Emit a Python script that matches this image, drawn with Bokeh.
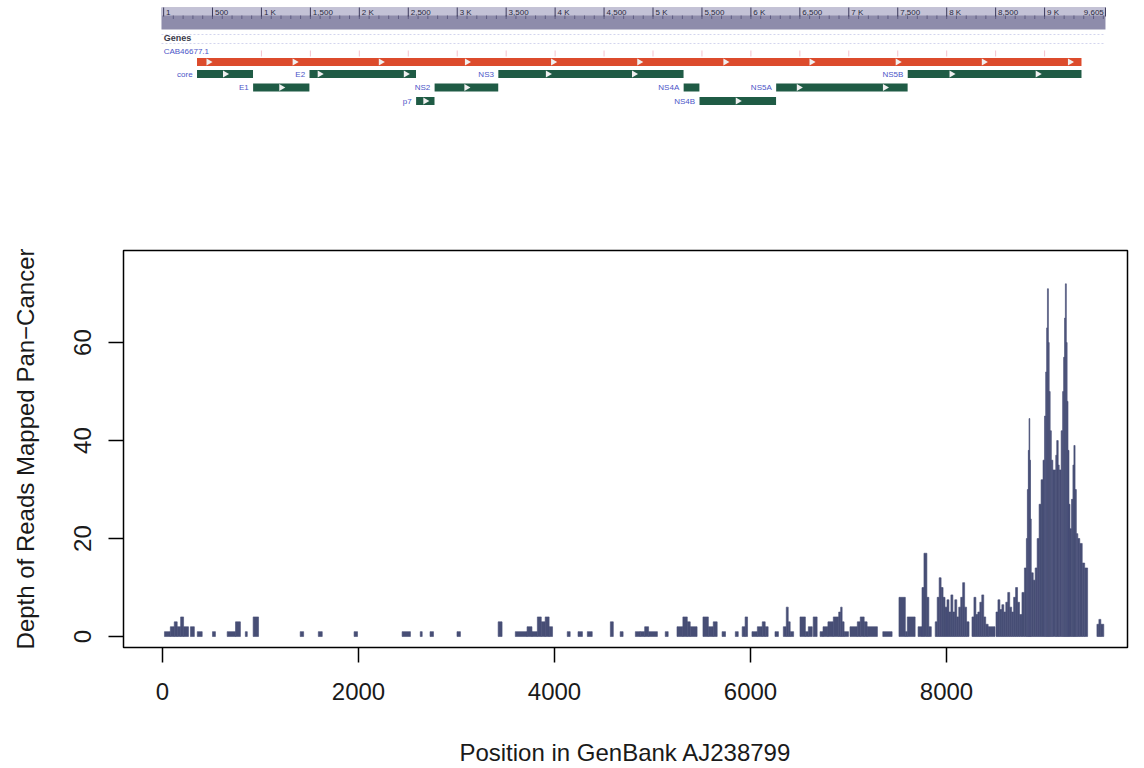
import math
from bokeh.plotting import figure
from bokeh.layouts import column
from bokeh.models import Range1d, FixedTicker
from bokeh.core.properties import value
from bokeh.embed import file_html
from bokeh.resources import INLINE

# ---------------- data ----------------
genome_length = 9605
ruler_ticks = [1, 500, 1000, 1500, 2000, 2500, 3000, 3500, 4000, 4500,
               5000, 5500, 6000, 6500, 7000, 7500, 8000, 8500, 9000]
ruler_labels = ["1", "500", "1 K", "1,500", "2 K", "2,500", "3 K", "3,500", "4 K", "4,500",
                "5 K", "5,500", "6 K", "6,500", "7 K", "7,500", "8 K", "8,500", "9 K"]
end_label = "9,605"

polyprotein_name = "CAB46677.1"
polyprotein_start = 342
polyprotein_end = 9377

gene_names = ["core", "E1", "E2", "p7", "NS2", "NS3", "NS4A", "NS4B", "NS5A", "NS5B"]
gene_start = [342, 915, 1491, 2580, 2769, 3420, 5313, 5475, 6258, 7602]
gene_end = [914, 1490, 2579, 2768, 3419, 5312, 5474, 6257, 7601, 9377]
gene_row = [1, 2, 1, 3, 2, 1, 2, 3, 2, 1]

depth_start = [20, 80, 120, 150, 185, 215, 285, 355, 510, 660, 745, 845, 925,
               1405, 1590, 1955, 2445, 2630, 2730, 3005, 3425,
               3600, 3720, 3770, 3825, 3865, 3905, 3945,
               4130, 4240, 4335, 4570, 4670, 4825, 4875, 4920, 4960, 5130,
               5250, 5310, 5355, 5385, 5515, 5570, 5620, 5710, 5845, 5915, 5945,
               6015, 6070, 6120, 6150, 6250, 6335, 6365, 6385, 6405,
               6505, 6560, 6590, 6640, 6710, 6740, 6790, 6845, 6900, 6920, 6935, 6955,
               7015, 7090, 7120, 7160, 7190, 7350, 7515, 7580, 7600,
               7710, 7750, 7770, 7800, 7820,
               7885, 7905, 7925, 7945, 7965, 7985, 8005, 8025, 8045, 8065, 8085, 8105,
               8125, 8145, 8165, 8185, 8205,
               8260, 8280, 8300, 8320, 8340, 8360, 8380, 8400, 8425,
               8505, 8525, 8545, 8565, 8585, 8605, 8625, 8645, 8665, 8685, 8705, 8725, 8745,
               8770, 8795, 8815, 8825, 8835, 8842, 8850, 8857, 8865,
               8885, 8905, 8925, 8945, 8965, 8985, 9000, 9012, 9022, 9030, 9040, 9048, 9058,
               9070, 9085, 9115, 9125, 9140, 9150, 9170, 9185, 9195, 9205, 9213, 9223, 9231, 9240,
               9250, 9260, 9275, 9290, 9300, 9312, 9325, 9340, 9360, 9385, 9410,
               9535, 9555, 9575]
depth_end = [80, 120, 150, 185, 215, 265, 325, 405, 540, 745, 795, 865, 980,
             1440, 1630, 1990, 2530, 2650, 2765, 3040, 3465,
             3720, 3770, 3825, 3865, 3905, 3945, 3980,
             4160, 4285, 4385, 4600, 4700, 4875, 4920, 4960, 5050, 5160,
             5310, 5355, 5385, 5455, 5570, 5620, 5660, 5745, 5875, 5945, 5970,
             6070, 6120, 6150, 6180, 6285, 6365, 6385, 6405, 6440,
             6560, 6590, 6630, 6680, 6740, 6790, 6845, 6900, 6920, 6935, 6955, 7000,
             7090, 7120, 7160, 7190, 7295, 7445, 7580, 7600, 7680,
             7750, 7770, 7800, 7820, 7845,
             7905, 7925, 7945, 7965, 7985, 8005, 8025, 8045, 8065, 8085, 8105, 8125,
             8145, 8165, 8185, 8205, 8230,
             8280, 8300, 8320, 8340, 8360, 8380, 8400, 8425, 8495,
             8525, 8545, 8565, 8585, 8605, 8625, 8645, 8665, 8685, 8705, 8725, 8745, 8770,
             8795, 8815, 8825, 8835, 8842, 8850, 8857, 8865, 8885,
             8905, 8925, 8945, 8965, 8985, 9000, 9012, 9022, 9030, 9040, 9048, 9058, 9070,
             9085, 9115, 9125, 9140, 9150, 9170, 9185, 9195, 9205, 9213, 9223, 9231, 9240, 9250,
             9260, 9275, 9290, 9300, 9312, 9325, 9340, 9360, 9385, 9410, 9440,
             9555, 9575, 9605]
depth_value = [1, 2, 3, 2, 4, 2, 2, 1, 1, 1, 3, 1, 4,
               1, 1, 1, 1, 1, 1, 1, 3,
               1, 2, 1, 4, 3, 4, 2,
               1, 1, 1, 3, 1, 1, 1, 2, 1, 1,
               2, 4, 3, 2, 4, 2, 3, 1, 1, 2, 4,
               1, 2, 3, 2, 1, 2, 6, 3, 1,
               4, 1, 2, 4, 1, 2, 3, 4, 5, 6, 3, 1,
               2, 3, 4, 3, 2, 1, 8, 1, 4,
               2, 10, 17, 8, 2,
               3, 8, 12, 10, 8, 6, 7.5, 5, 8.5, 5, 7.5, 4,
               6, 8, 11, 6, 3,
               4, 8, 4.5, 5, 7, 8.5, 4, 2.5, 2,
               5, 7.5, 5.5, 6.5, 5, 7, 9, 6, 5, 8, 10, 7, 4.5,
               9, 14, 20, 30, 38, 44.5, 36, 24, 13,
               11.5, 14, 20, 27, 32, 36, 45, 54, 63, 71, 60, 50, 42,
               36, 34, 37, 40, 35, 34, 42, 50, 57, 65, 72, 60, 48, 38,
               27, 22, 28, 35, 39, 30, 21, 20, 19, 15, 14,
               2.5, 3.5, 2.5]
assert len(depth_start) == len(depth_end) == len(depth_value)

x_ticks = [0, 2000, 4000, 6000, 8000]
y_ticks = [0, 20, 40, 60]
x_title = "Position in GenBank AJ238799"
y_title = "Depth of Reads Mapped Pan\u2212Cancer"

# ---------------- styles ----------------
FONT = "Liberation Sans"
BAR = "#474e75"
RED = "#dc4b2c"
GREEN = "#1f5b45"
LBL = "#4b55c8"
TXT = "#1a1a1a"

# ---------------- genome track ----------------
top = figure(width=1144, height=110, x_range=Range1d(-409, 9847), y_range=Range1d(110, 0),
             output_backend="svg", toolbar_location=None, x_axis_type=None, y_axis_type=None,
             min_border=0)
top.grid.visible = False
top.outline_line_color = None

r_left = 1 - 22
r_right = genome_length + 17
top.quad(left=[r_left], right=[r_right], top=[7], bottom=[29], fill_color="#8e8cab", line_color=None)
top.quad(left=[r_left], right=[r_right], top=[7], bottom=[15], fill_color="#c3c2d6", line_color=None)
minor = list(range(100, genome_length, 100))
top.segment(x0=minor, x1=minor, y0=[15] * len(minor), y1=[18.5] * len(minor), line_color="#5f5d82", line_width=1)
top.segment(x0=ruler_ticks, x1=ruler_ticks, y0=[7] * len(ruler_ticks), y1=[16] * len(ruler_ticks),
            line_color="#3c3a5c", line_width=1)
top.segment(x0=[genome_length + 17], x1=[genome_length + 17], y0=[7], y1=[16], line_color="#3c3a5c", line_width=1)
top.text(x=[t + 25 for t in ruler_ticks], y=[11.5] * len(ruler_ticks), text=ruler_labels,
         text_font=value(FONT), text_font_size="8px", text_color="#2a2a40",
         text_align="left", text_baseline="middle")
top.text(x=[genome_length], y=[11.5], text=[end_label], text_font=value(FONT), text_font_size="8px",
         text_color="#2a2a40", text_align="right", text_baseline="middle")

# track header band
top.segment(x0=[r_left, r_left], x1=[r_right, r_right], y0=[34, 43], y1=[34, 43],
            line_color="#d3d5ee", line_width=1, line_dash="2 2")
top.text(x=[1], y=[37], text=["Genes"], text_font=value(FONT), text_font_size="9px",
         text_font_style="bold", text_color="#3a3a4a", text_align="left", text_baseline="middle")
top.text(x=[1], y=[51], text=[polyprotein_name], text_font=value(FONT), text_font_size="8px",
         text_color=LBL, text_align="left", text_baseline="middle")
top.segment(x0=ruler_ticks[2:], x1=ruler_ticks[2:], y0=[50] * (len(ruler_ticks) - 2),
            y1=[56] * (len(ruler_ticks) - 2), line_color="#f3c3cf", line_width=1)

row_y = {0: 61.5, 1: 73.5, 2: 87.0, 3: 100.5}
half = 4.0

top.quad(left=[polyprotein_start], right=[polyprotein_end], top=[row_y[0] - half], bottom=[row_y[0] + half],
         fill_color=RED, line_color=None)
gy = [row_y[r] for r in gene_row]
top.quad(left=gene_start, right=gene_end, top=[y - half for y in gy], bottom=[y + half for y in gy],
         fill_color=GREEN, line_color=None)
top.text(x=[s - 45 for s in gene_start], y=gy, text=gene_names, text_font=value(FONT),
         text_font_size="8px", text_color=LBL, text_align="right", text_baseline="middle")

# chevrons
cx, cy = [], []
bars = [(polyprotein_start, polyprotein_end, row_y[0])] + list(zip(gene_start, gene_end, gy))
for s, e, y in bars:
    w = e - s
    n = int(round(w / 880 + 0.3))
    if n > 0:
        off = (w - (n - 1) * 880) / 2
        for k in range(n):
            cx.append(s + off + k * 880)
            cy.append(y)
top.scatter(x=cx, y=cy, marker="triangle", size=7, angle=-math.pi / 2,
            fill_color="#f0f0f0", line_color=None)

# ---------------- depth plot ----------------
p = figure(width=1144, height=658, x_range=Range1d(-398, 9847), y_range=Range1d(-2.24, 78.8),
           output_backend="svg", toolbar_location=None,
           min_border_left=123, min_border_right=17, min_border_top=140, min_border_bottom=121)
p.grid.visible = False
p.outline_line_color = "black"
p.outline_line_width = 1.5

p.quad(left=depth_start, right=depth_end, bottom=0, top=depth_value,
       fill_color=BAR, line_color=BAR, line_width=0.6)

for ax in (p.xaxis, p.yaxis):
    ax.axis_line_color = None
    ax.major_tick_out = 15
    ax.major_tick_in = 0
    ax.minor_tick_out = 0
    ax.minor_tick_in = 0
    ax.major_tick_line_color = "black"
    ax.major_tick_line_width = 1.5
    ax.major_label_text_font = FONT
    ax.major_label_text_font_size = "24px"
    ax.major_label_text_color = TXT
    ax.axis_label_text_font = FONT
    ax.axis_label_text_font_size = "24px"
    ax.axis_label_text_font_style = "normal"
    ax.axis_label_text_color = TXT

p.xaxis.ticker = FixedTicker(ticks=x_ticks)
p.yaxis.ticker = FixedTicker(ticks=y_ticks)
p.xaxis.axis_label = x_title
p.yaxis.axis_label = y_title
p.xaxis.major_label_standoff = 20
p.xaxis.axis_label_standoff = 36
p.yaxis.major_label_orientation = "vertical"
p.yaxis.major_label_standoff = 17
p.yaxis.axis_label_standoff = 33

layout = column(top, p, spacing=0)
open("out.html", "w").write(file_html(layout, INLINE))
